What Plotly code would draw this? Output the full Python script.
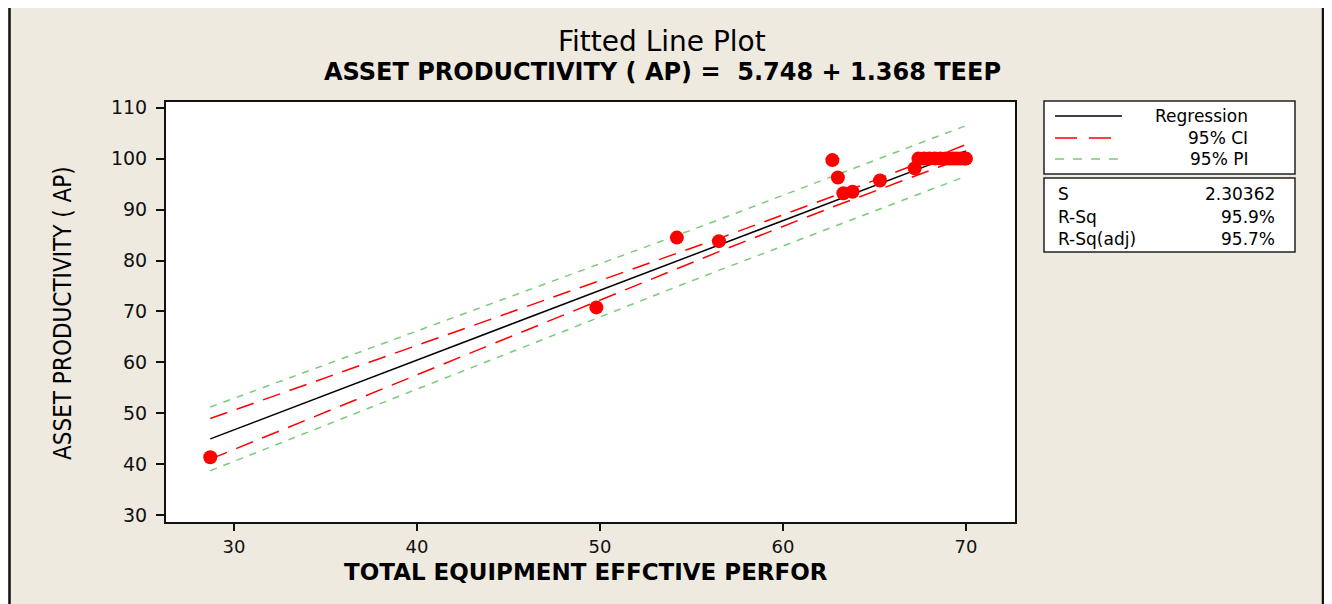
import numpy as np
import plotly.graph_objects as go

# ---------------- data ----------------
teep = [28.7, 49.8, 54.2, 56.5, 62.7, 63.0, 63.3, 63.8, 65.3, 67.2,
        67.4, 67.7, 68.0, 68.3, 68.6, 68.9, 69.1, 69.3, 69.5, 69.7, 69.9, 70.0]
ap = [41.4, 70.8, 84.5, 83.8, 99.7, 96.3, 93.2, 93.5, 95.7, 98.1,
      100.0, 100.0, 100.0, 100.0, 100.0, 100.0, 100.0, 100.0, 100.0, 100.0, 100.0, 100.0]

intercept = 5.748
slope = 1.368
s_value = 2.30362
r_sq = "95.9%"
r_sq_adj = "95.7%"
t_crit = 2.086  # t(0.975, n-2)

x_ticks = [30, 40, 50, 60, 70]
y_ticks = [30, 40, 50, 60, 70, 80, 90, 100, 110]

# ---------------- fitted line and bands ----------------
x = np.array(teep)
n = len(x)
xbar = x.mean()
sxx = ((x - xbar) ** 2).sum()
xs = np.sort(np.unique(x))
fit = intercept + slope * xs
h = (1.0 / n) + (xs - xbar) ** 2 / sxx
ci = t_crit * s_value * np.sqrt(h)
pi = t_crit * s_value * np.sqrt(1 + h)

BG = "#EEEAE0"
RED = "#FF0000"
GREEN = "#7ACB7A"
FONT = "DejaVu Sans"
COND = "DejaVu Sans Condensed, Liberation Sans Narrow, Liberation Sans"

fig = go.Figure()
fig.add_trace(go.Scatter(x=xs, y=fit + pi, mode="lines",
                         line=dict(color=GREEN, width=1.5, dash="7px,7px"), showlegend=False))
fig.add_trace(go.Scatter(x=xs, y=fit - pi, mode="lines",
                         line=dict(color=GREEN, width=1.5, dash="7px,7px"), showlegend=False))
fig.add_trace(go.Scatter(x=xs, y=fit + ci, mode="lines",
                         line=dict(color=RED, width=1.5, dash="18px,10px"), showlegend=False))
fig.add_trace(go.Scatter(x=xs, y=fit - ci, mode="lines",
                         line=dict(color=RED, width=1.5, dash="18px,10px"), showlegend=False))
fig.add_trace(go.Scatter(x=xs, y=fit, mode="lines",
                         line=dict(color="black", width=1.5), showlegend=False))
fig.add_trace(go.Scatter(x=teep, y=ap, mode="markers",
                         marker=dict(color=RED, size=14, line=dict(width=0)), showlegend=False))

# target plot-area edges on screen (page has an 8px body margin)
OFF = 8
L, R, T, B = 166, 1015, 102, 522
W, H = 1332, 604


def px(v):
    return (v - L) / (R - L)


def py(v):
    return (B - v) / (B - T)


shapes = []
annotations = []

# outer frame
shapes.append(dict(type="rect", xref="paper", yref="paper", x0=px(1324), x1=px(1345), y0=py(-10), y1=py(640),
                   fillcolor="white", line=dict(width=0), layer="below"))
shapes.append(dict(type="rect", xref="paper", yref="paper", x0=px(9.5), x1=px(1323), y0=py(1.5), y1=py(660),
                   line=dict(color="#111111", width=2.5), fillcolor="rgba(0,0,0,0)"))

# legend box
shapes.append(dict(type="rect", xref="paper", yref="paper", x0=px(1044), x1=px(1295), y0=py(101), y1=py(174),
                   fillcolor="white", line=dict(color="#222222", width=1.5)))
shapes.append(dict(type="rect", xref="paper", yref="paper", x0=px(1044), x1=px(1295), y0=py(178), y1=py(252),
                   fillcolor="white", line=dict(color="#222222", width=1.5)))
shapes.append(dict(type="line", xref="paper", yref="paper", x0=px(1055), x1=px(1122), y0=py(116), y1=py(116),
                   line=dict(color="black", width=1.5)))
shapes.append(dict(type="line", xref="paper", yref="paper", x0=px(1055), x1=px(1118), y0=py(138), y1=py(138),
                   line=dict(color=RED, width=1.5, dash="22px,12px")))
shapes.append(dict(type="line", xref="paper", yref="paper", x0=px(1055), x1=px(1122), y0=py(159), y1=py(159),
                   line=dict(color=GREEN, width=1.5, dash="9px,9px")))

leg_font = dict(family=FONT, size=17, color="black")
for label, yy in [("Regression", 116), ("95% CI", 138), ("95% PI", 159)]:
    annotations.append(dict(xref="paper", yref="paper", x=px(1250), y=py(yy), text=label,
                            showarrow=False, xanchor="right", yanchor="middle", font=leg_font))
for label, val, yy in [("S", f"{s_value:.5f}", 194), ("R-Sq", r_sq, 217), ("R-Sq(adj)", r_sq_adj, 239)]:
    annotations.append(dict(xref="paper", yref="paper", x=px(1056), y=py(yy), text=label,
                            showarrow=False, xanchor="left", yanchor="middle", font=leg_font))
    annotations.append(dict(xref="paper", yref="paper", x=px(1277), y=py(yy), text=val,
                            showarrow=False, xanchor="right", yanchor="middle", font=leg_font))

# titles
annotations.append(dict(xref="paper", yref="paper", x=px(662), y=py(41), text="Fitted Line Plot",
                        showarrow=False, xanchor="center", yanchor="middle", borderpad=0,
                        font=dict(family=FONT, size=28, color="black")))
annotations.append(dict(xref="paper", yref="paper", x=px(662), y=py(72),
                        text=f"<b>ASSET PRODUCTIVITY ( AP) =  {intercept:.3f} + {slope:.3f} TEEP</b>",
                        showarrow=False, xanchor="center", yanchor="middle", borderpad=0,
                        font=dict(family=FONT, size=24, color="black")))
annotations.append(dict(xref="paper", yref="paper", x=px(586), y=py(572),
                        text="<b>TOTAL EQUIPMENT EFFCTIVE PERFOR</b>",
                        showarrow=False, xanchor="center", yanchor="middle",
                        font=dict(family=FONT, size=23, color="black")))
annotations.append(dict(xref="paper", yref="paper", x=px(63), y=py(313),
                        text="ASSET PRODUCTIVITY ( AP)", textangle=-90,
                        showarrow=False, xanchor="center", yanchor="middle",
                        font=dict(family=COND, size=24, color="black")))

axis_common = dict(showgrid=False, zeroline=False, showline=True, mirror=True,
                   linecolor="#111111", linewidth=2, ticks="outside",
                   tickwidth=1.5, tickcolor="#111111")

fig.update_layout(
    width=W, height=H,
    margin=dict(l=L - OFF, r=W - (R - OFF), t=T - OFF, b=H - (B - OFF), pad=0),
    paper_bgcolor=BG, plot_bgcolor="white",
    xaxis=dict(range=[26.28, 72.68], tickvals=x_ticks, ticklabelstandoff=0, ticklen=7,
               tickfont=dict(family=FONT, size=18, color="#111111"), **axis_common),
    yaxis=dict(range=[28.7, 111.1], tickvals=y_ticks, ticklabelstandoff=5, ticklen=8,
               tickfont=dict(family=FONT, size=19, color="#111111"), **axis_common),
    shapes=shapes, annotations=annotations, showlegend=False,
)

fig.write_html("out.html")
